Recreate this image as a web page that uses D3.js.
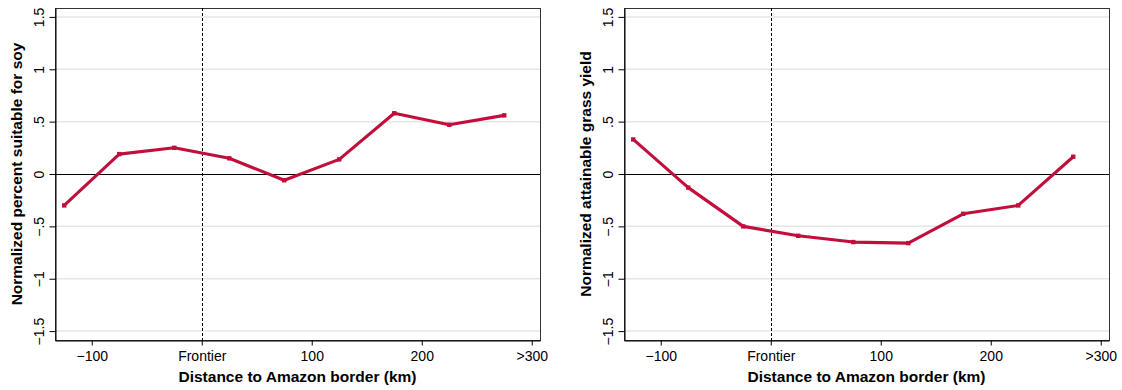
<!DOCTYPE html>
<html>
<head>
<meta charset="utf-8">
<script src="https://cdn.jsdelivr.net/npm/d3@7"></script>
<style>
  html, body { margin: 0; padding: 0; background: #fff; }
  svg { display: block; font-family: "Liberation Sans", Arial, sans-serif; }
</style>
</head>
<body>
<div id="chart"></div>
<script>
// distance bins (km from Amazon border), midpoints of 50 km bands
const distanceBins = [-125, -75, -25, 25, 75, 125, 175, 225, 275];
const soyValues = [-0.30, 0.19, 0.25, 0.15, -0.06, 0.14, 0.58, 0.47, 0.56];
const grassValues = [0.33, -0.13, -0.50, -0.59, -0.65, -0.66, -0.38, -0.30, 0.165];

const xTickValues = [-100, 0, 100, 200, 300];
const xTickLabels = ["\u2212100", "Frontier", "100", "200", ">300"];
const yTickValues = [-1.5, -1, -0.5, 0, 0.5, 1, 1.5];
const yTickLabels = ["\u22121.5", "\u22121", "\u2212.5", "0", ".5", "1", "1.5"];

const panelTitles = ["Normalized percent suitable for soy", "Normalized attainable grass yield"];
const panelSeries = [soyValues, grassValues];

const width = 1122, height = 390;
const lineColor = "#c10f3b";

const svg = d3.select("#chart").append("svg")
    .attr("width", width)
    .attr("height", height);

const pw = 485, plotTop = 8, plotBottom = 340;

const x = d3.scaleLinear().domain([-133.4, 307.5]).range([0, pw]);
const y = d3.scaleLinear().domain([-1.585, 1.585]).range([plotBottom, plotTop]);

function drawPanel(left, values, title) {
    const g = svg.append("g").attr("transform", `translate(${left},0)`);

    // gridlines
    g.append("g")
        .selectAll("line")
        .data(yTickValues.filter(v => v !== 0))
        .enter().append("line")
        .attr("x1", 0).attr("x2", pw)
        .attr("y1", d => y(d)).attr("y2", d => y(d))
        .attr("stroke", "#e6e6e6")
        .attr("stroke-width", 1.5);

    // frame
    g.append("rect")
        .attr("x", 0.5).attr("y", plotTop + 0.5)
        .attr("width", pw).attr("height", plotBottom - plotTop)
        .attr("fill", "none")
        .attr("stroke", "#333")
        .attr("stroke-width", 1);

    // zero line
    g.append("line")
        .attr("x1", 0).attr("x2", pw)
        .attr("y1", Math.round(y(0)) + 0.5).attr("y2", Math.round(y(0)) + 0.5)
        .attr("stroke", "#000")
        .attr("stroke-width", 1);

    // frontier
    g.append("line")
        .attr("x1", Math.round(x(0)) + 0.5).attr("x2", Math.round(x(0)) + 0.5)
        .attr("y1", plotTop).attr("y2", plotBottom)
        .attr("stroke", "#000")
        .attr("stroke-width", 1)
        .attr("stroke-dasharray", "3,2");

    // y axis
    const yAxis = g.append("g")
        .attr("transform", "translate(0.5,0)")
        .call(d3.axisLeft(y)
            .tickValues(yTickValues)
            .tickFormat((d, i) => yTickLabels[i])
            .tickSize(6)
            .tickSizeOuter(0));
    yAxis.select(".domain").attr("stroke", "#000");
    yAxis.selectAll(".tick line").attr("stroke", "#000");
    yAxis.selectAll(".tick text")
        .attr("x", null).attr("dy", null)
        .attr("transform", "translate(-12,0) rotate(-90)")
        .attr("text-anchor", "middle")
        .style("font-size", "14px")
        .style("font-family", "Liberation Sans, Arial, sans-serif")
        .attr("fill", "#000");

    // x axis
    const xAxis = g.append("g")
        .attr("transform", `translate(0,${plotBottom + 0.5})`)
        .call(d3.axisBottom(x)
            .tickValues(xTickValues)
            .tickFormat((d, i) => xTickLabels[i])
            .tickSize(5)
            .tickSizeOuter(0));
    xAxis.select(".domain").attr("stroke", "#000");
    xAxis.selectAll(".tick line").attr("stroke", "#000");
    xAxis.selectAll(".tick text")
        .attr("y", 20).attr("dy", null)
        .style("font-size", "14px")
        .style("font-family", "Liberation Sans, Arial, sans-serif")
        .attr("fill", "#000");

    // series
    const pts = distanceBins.map((d, i) => [d, values[i]]);
    g.append("path")
        .datum(pts)
        .attr("fill", "none")
        .attr("stroke", lineColor)
        .attr("stroke-width", 3.1)
        .attr("stroke-linejoin", "round")
        .attr("d", d3.line().x(d => x(d[0])).y(d => y(d[1])));

    g.append("g")
        .selectAll("rect")
        .data(pts)
        .enter().append("rect")
        .attr("x", d => x(d[0]) - 2.2)
        .attr("y", d => y(d[1]) - 2.2)
        .attr("width", 4.4).attr("height", 4.4)
        .attr("fill", lineColor);

    // titles
    g.append("text")
        .attr("x", pw / 2).attr("y", 382)
        .attr("text-anchor", "middle")
        .style("font-size", "15.5px")
        .style("font-weight", "700")
        .text("Distance to Amazon border (km)");

    g.append("text")
        .attr("transform", `translate(-33,${y(0)}) rotate(-90)`)
        .attr("text-anchor", "middle")
        .style("font-size", "15.5px")
        .style("font-weight", "700")
        .text(title);
}

drawPanel(55, panelSeries[0], panelTitles[0]);
drawPanel(624, panelSeries[1], panelTitles[1]);
</script>
</body>
</html>
